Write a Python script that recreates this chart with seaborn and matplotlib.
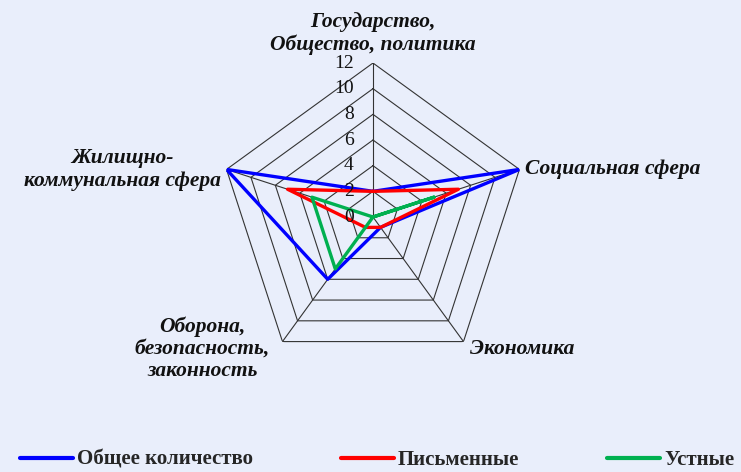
import numpy as np
import pandas as pd
import matplotlib
matplotlib.use('Agg')
import matplotlib.pyplot as plt
from matplotlib.lines import Line2D
import seaborn as sns

categories = ['Государство,\nОбщество, политика', 'Социальная сфера', 'Экономика',
              'Оборона,\nбезопасность,\nзаконность', 'Жилищно-\nкоммунальная сфера']
total = [2, 12, 1, 6, 12]
written = [2, 7, 1, 1, 7]
oral = [0, 5, 0, 5, 5]
series_names = ['Общее количество', 'Письменные', 'Устные']
series_colors = ['#0000FF', '#FF0000', '#00B050']
r_ticks = [0, 2, 4, 6, 8, 10, 12]

sns.set_theme(style='white')
plt.rcParams['font.family'] = ['Liberation Serif', 'DejaVu Serif']

n = len(categories)
angles = np.arange(n) * 2 * np.pi / n
closed = np.append(angles, angles[0])

rows = []
for name, vals in zip(series_names, [total, written, oral]):
    for a, v in zip(closed, vals + vals[:1]):
        rows.append({'angle': a, 'value': v, 'series': name})
df = pd.DataFrame(rows)

bg = '#E9EEFB'
fig = plt.figure(figsize=(7.41, 4.72), dpi=100, facecolor=bg)
ax = fig.add_axes([0.2955, 0.214, 0.4157, 0.6525], projection='polar')
ax.set_facecolor('none')
ax.set_theta_zero_location('N')
ax.set_theta_direction(-1)
ax.grid(False)
ax.spines['polar'].set_visible(False)

# pentagon grid
for r in r_ticks[1:]:
    ax.plot(closed, [r] * (n + 1), color='#333333', lw=0.8, zorder=1)
for a in angles:
    ax.plot([a, a], [0, r_ticks[-1]], color='#333333', lw=0.8, zorder=1)

sns.lineplot(data=df, x='angle', y='value', hue='series', palette=series_colors,
             sort=False, estimator=None, lw=2.4, legend=False, ax=ax, zorder=3)
ax.set_ylim(0, 12)
ax.set_xticks([])
ax.set_yticks([])
ax.set_xlabel('')
ax.set_ylabel('')

for r in r_ticks:
    ax.annotate(str(r), xy=(0, r), xytext=(-14, 0), textcoords='offset points',
                ha='right', va='center', fontsize=14, color='#111111')

lab_kw = dict(fontsize=15.5, fontweight='bold', fontstyle='italic', color='#111111',
              textcoords='offset points', linespacing=1.15)
ax.annotate(categories[0], xy=(angles[0], 12), xytext=(0, 6), ha='center', va='bottom',
            multialignment='center', **lab_kw)
ax.annotate(categories[1], xy=(angles[1], 12), xytext=(4, 0), ha='left', va='center', **lab_kw)
ax.annotate(categories[2], xy=(angles[2], 12), xytext=(5, -5), ha='left', va='center', **lab_kw)
ax.annotate(categories[3], xy=(angles[3], 12), xytext=(-9, -5), ha='right', va='center',
            multialignment='center', **lab_kw)
ax.annotate(categories[4], xy=(angles[4], 12), xytext=(-4, 0), ha='right', va='center',
            multialignment='center', **lab_kw)

handles = [Line2D([], [], color=c, lw=3) for c in series_colors]
fig.legend(handles, series_names, loc='center left', bbox_to_anchor=(20 / 741, 1 - 460 / 472),
           ncol=3, frameon=False, handlelength=2.55, handletextpad=0.2, columnspacing=4.2,
           borderpad=0, borderaxespad=0,
           prop={'family': 'Liberation Serif', 'weight': 'bold', 'size': 15})

fig.savefig('out.png', dpi=100, facecolor=bg)
